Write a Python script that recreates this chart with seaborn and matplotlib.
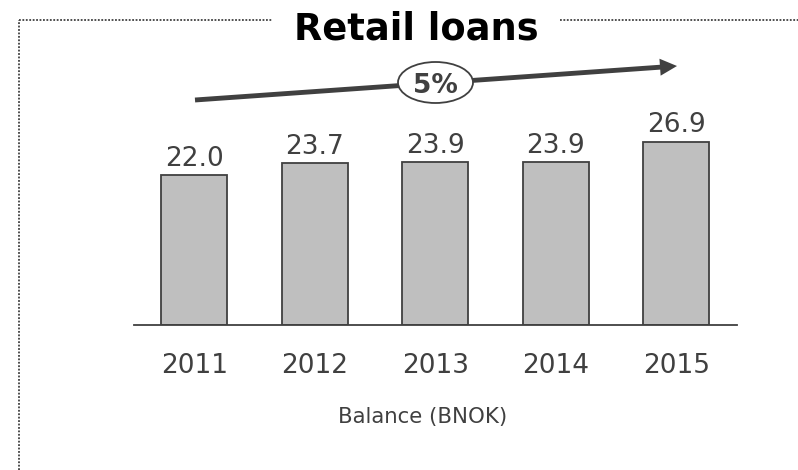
import matplotlib
matplotlib.use("Agg")
import matplotlib.pyplot as plt
from matplotlib.patches import Ellipse, Polygon
from matplotlib.lines import Line2D
import numpy as np
import seaborn as sns
import pandas as pd

# Retail loan balances (BNOK) per year
years = ["2011", "2012", "2013", "2014", "2015"]
balances = [22.0, 23.7, 23.9, 23.9, 26.9]
title_text = "Retail loans"
growth_label = "5%"
axis_caption = "Balance (BNOK)"

DARK = "#404040"
BAR = "#bfbfbf"

sns.set_theme(style="white")
plt.rcParams["font.family"] = ["DejaVu Sans"]

W, H = 798, 470
fig = plt.figure(figsize=(W / 100, H / 100), dpi=100)

# bar axes placed in pixel terms: baseline at y=325, x span 134..736
px_per_unit = 6.82
ymax = 30
ax = fig.add_axes([134 / W, (H - 325) / H, 602.5 / W, ymax * px_per_unit / H])

df = pd.DataFrame({"year": years, "balance": balances})
sns.barplot(data=df, x="year", y="balance", ax=ax, color=BAR,
            edgecolor=DARK, linewidth=1.3, width=0.55, saturation=1)
ax.set_xlim(-0.5, 4.5)
ax.set_ylim(0, ymax)
for s in ["top", "left", "right"]:
    ax.spines[s].set_visible(False)
ax.spines["bottom"].set_color(DARK)
ax.spines["bottom"].set_linewidth(1.3)
ax.set_yticks([])
ax.set_xlabel("")
ax.set_ylabel("")
ax.tick_params(axis="x", length=0, pad=20.5, labelsize=19, labelcolor=DARK)
ax.patch.set_alpha(0)

for i, v in enumerate(balances):
    ax.annotate(f"{v:.1f}", xy=(i, v), xytext=(0, 6.8), textcoords="offset points",
                ha="center", va="baseline", fontsize=19, color=DARK)

# overlay in pixel coordinates for frame, title and growth arrow
ov = fig.add_axes([0, 0, 1, 1])
ov.set_xlim(0, W)
ov.set_ylim(H, 0)
ov.axis("off")
ov.patch.set_alpha(0)

frame_kw = dict(color="#404040", linewidth=1.3, linestyle=(0, (1, 0.9)))
ov.add_line(Line2D([19, 19], [470, 20], **frame_kw))
ov.add_line(Line2D([19, 272], [20, 20], **frame_kw))
ov.add_line(Line2D([560, 798], [20, 20], **frame_kw))

ov.text(416, 40, title_text, ha="center", va="baseline", fontsize=26.5,
        fontweight="bold", color="black")

# growth arrow: shaft plus triangular head
start = np.array([195.0, 100.0])
tip = np.array([677.0, 66.0])
u = (tip - start) / np.linalg.norm(tip - start)
n = np.array([-u[1], u[0]])
head_len, head_half = 17.0, 8.5
base = tip - head_len * u
ov.add_line(Line2D([start[0], base[0] + 2 * u[0]], [start[1], base[1] + 2 * u[1]],
                   color=DARK, linewidth=3.5, solid_capstyle="butt"))
ov.add_patch(Polygon([tip, base + head_half * n, base - head_half * n],
                     closed=True, facecolor=DARK, edgecolor="none"))

ov.add_patch(Ellipse((435.5, 82.5), 75, 41, facecolor="white", edgecolor=DARK,
                     linewidth=1.3, zorder=5))
ov.text(435.5, 83, growth_label, ha="center", va="center_baseline", fontsize=19,
        fontweight="bold", color=DARK, zorder=6)

ov.text(423, 423, axis_caption, ha="center", va="baseline", fontsize=15.3, color=DARK)

fig.savefig("out.png", dpi=100)
